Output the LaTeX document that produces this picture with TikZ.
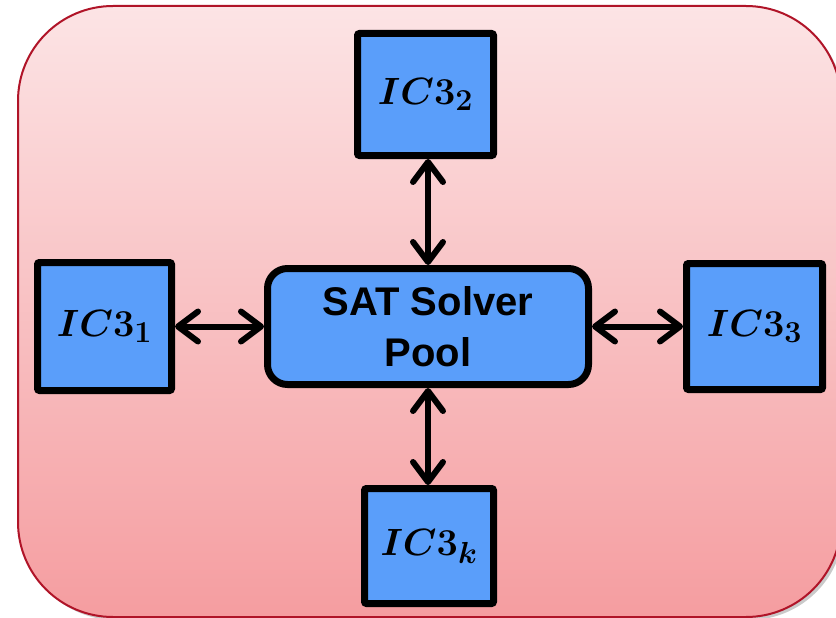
\documentclass[tikz,border=0pt]{standalone}
\usepackage{fix-cm}
\usepackage{bm}
\usepackage{fontspec}
\newfontfamily\poolfont{Liberation Sans}
\usetikzlibrary{arrows.meta,shadows}
\renewcommand\defaultscriptratio{.8}

\definecolor{bgtop}{RGB}{252,228,229}
\definecolor{bgbottom}{RGB}{245,157,160}
\definecolor{bgborder}{RGB}{176,20,40}
\definecolor{boxblue}{RGB}{90,158,250}

\tikzset{
  icbox/.style={draw, line width=7pt, fill=boxblue, rounded corners=2pt,
    inner sep=0pt, font=\fontsize{38}{46}\selectfont},
  poolbox/.style={draw, line width=7pt, fill=boxblue, rounded corners=20pt,
    inner sep=0pt, align=center, minimum width=321pt, minimum height=116pt,
    font=\poolfont\bfseries\fontsize{40}{51}\selectfont},
  link/.style={line width=6pt,
    arrows={Straight Barb[length=20pt,width=30pt,round]-Straight Barb[length=20pt,width=30pt,round]}}
}

\begin{document}
\begin{tikzpicture}[x=1pt,y=-1pt]
  \useasboundingbox (0,0) rectangle (836,618);
  % background panel
  \shade[top color=bgtop, bottom color=bgbottom, draw=bgborder, line width=2pt,
    rounded corners=95pt,
    drop shadow={shadow xshift=3pt, shadow yshift=-3pt, fill=black!60, opacity=0.35}]
    (18,6) rectangle (841,617);

  \node[poolbox] (pool) at (428,326.5) {SAT Solver\\Pool};
  \node[icbox, minimum width=134pt, minimum height=128pt] (ic1) at (104.5,326.5) {$\bm{IC3_1}$};
  \node[icbox, minimum width=136pt, minimum height=122pt] (ic2) at (425.5,94.5) {$\bm{IC3_2}$};
  \node[icbox, minimum width=136pt, minimum height=126pt] (ic3) at (754.5,326.5) {$\bm{IC3_3}$};
  \node[icbox, minimum width=129pt, minimum height=115pt] (ick) at (429,546) {$\bm{IC3_k}$};

  \draw[link] (ic1) -- (pool);
  \draw[link] (pool) -- (ic3);
  \draw[link] (pool.north) -- (pool.north |- ic2.south);
  \draw[link] (pool.south) -- (pool.south |- ick.north);
\end{tikzpicture}
\end{document}
